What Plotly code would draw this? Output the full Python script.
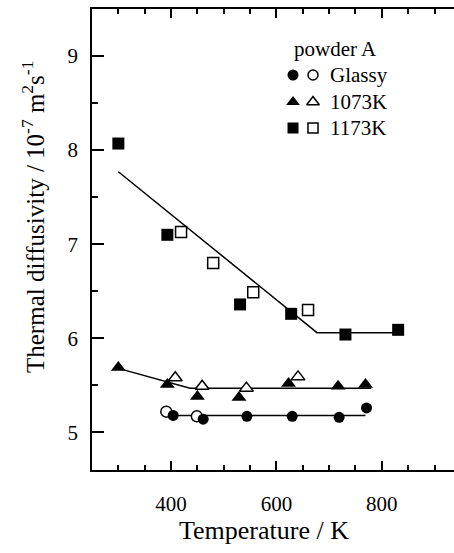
import plotly.graph_objects as go

# ---- data: thermal diffusivity (1e-7 m^2/s) vs temperature (K), powder A ----
glassy_T = [404, 461, 544, 630, 719, 771]
glassy_D = [5.18, 5.14, 5.17, 5.17, 5.16, 5.26]
glassy_open_T = [391, 449]
glassy_open_D = [5.22, 5.17]
glassy_fit_T = [404, 769]
glassy_fit_D = [5.18, 5.18]

k1073_T = [300, 393, 450, 529, 623, 717, 769]
k1073_D = [5.69, 5.51, 5.38, 5.37, 5.52, 5.49, 5.51]
k1073_open_T = [408, 459, 543, 641]
k1073_open_D = [5.58, 5.49, 5.47, 5.59]
k1073_fit_T = [300, 436, 780]
k1073_fit_D = [5.68, 5.47, 5.47]

k1173_T = [300, 393, 531, 628, 731, 831]
k1173_D = [8.07, 7.10, 6.36, 6.26, 6.04, 6.09]
k1173_open_T = [419, 480, 556, 660]
k1173_open_D = [7.13, 6.80, 6.49, 6.30]
k1173_fit_T = [300, 677, 831]
k1173_fit_D = [7.77, 6.06, 6.06]

legend_title = "powder A"
legend_labels = ["Glassy", "1073K", "1173K"]
legend_symbols = ["circle", "triangle-up", "square"]

FONT = "Liberation Serif"
W, H = 454, 553
L, R, T, B = 92, 0, 9, 83
PW, PH = W - L - R, H - T - B

fig = go.Figure()

def fit_line(x, y):
    fig.add_trace(go.Scatter(x=x, y=y, mode="lines",
                             line=dict(color="black", width=1.5),
                             showlegend=False, hoverinfo="skip"))

def filled(x, y, symbol, size):
    fig.add_trace(go.Scatter(x=x, y=y, mode="markers", showlegend=False,
                             marker=dict(symbol=symbol, size=size, color="black",
                                         line=dict(width=0))))

def hollow(x, y, symbol, size):
    fig.add_trace(go.Scatter(x=x, y=y, mode="markers", showlegend=False,
                             marker=dict(symbol=symbol, size=size, color="white",
                                         line=dict(width=1.5, color="black"))))

fit_line(glassy_fit_T, glassy_fit_D)
fit_line(k1073_fit_T, k1073_fit_D)
fit_line(k1173_fit_T, k1173_fit_D)

hollow(glassy_open_T, glassy_open_D, "circle", 11)
filled(glassy_T, glassy_D, "circle", 11)
filled(k1073_T, k1073_D, "triangle-up", 13)
hollow(k1073_open_T, k1073_open_D, "triangle-up", 12)
filled(k1173_T, k1173_D, "square", 12)
hollow(k1173_open_T, k1173_open_D, "square", 11)

# ---- legend key drawn on a pixel-scaled overlay axis ----
key_x_filled, key_x_open, key_x_text = 201, 221, 236
key_rows = [66, 93, 119]
key_sizes = [11, 12, 11]
for sym, yy, sz, lab in zip(legend_symbols, key_rows, key_sizes, legend_labels):
    fig.add_trace(go.Scatter(x=[key_x_filled], y=[yy], xaxis="x2", yaxis="y2",
                             mode="markers", showlegend=False, hoverinfo="skip",
                             marker=dict(symbol=sym, size=sz, color="black")))
    fig.add_trace(go.Scatter(x=[key_x_open], y=[yy], xaxis="x2", yaxis="y2",
                             mode="markers", showlegend=False, hoverinfo="skip",
                             marker=dict(symbol=sym, size=sz - 1, color="white",
                                         line=dict(width=1.5, color="black"))))
    fig.add_annotation(x=key_x_text, y=yy, xref="x2", yref="y2", text=lab,
                       showarrow=False, xanchor="left", yanchor="middle",
                       font=dict(family=FONT, size=21, color="black"))
fig.add_annotation(x=200, y=40, xref="x2", yref="y2", text=legend_title,
                   showarrow=False, xanchor="left", yanchor="middle",
                   font=dict(family=FONT, size=21, color="black"))

# axis titles
fig.add_annotation(x=(264 - L) / PW, y=-(530 - T - PH) / PH, xref="paper", yref="paper",
                   text="Temperature / K", showarrow=False,
                   xanchor="center", yanchor="middle",
                   font=dict(family=FONT, size=26, color="black"))
fig.add_annotation(x=(33 - L) / PW, y=1 - (217 - T) / PH, xref="paper", yref="paper",
                   text="Thermal diffusivity / 10<sup>-7</sup> m<sup>2</sup>s<sup>-1</sup>",
                   textangle=-90, showarrow=False,
                   xanchor="center", yanchor="middle",
                   font=dict(family=FONT, size=25, color="black"))

axis_common = dict(showgrid=False, zeroline=False, showline=True, linecolor="black",
                   linewidth=1.5, ticks="inside", tickcolor="black", tickwidth=1.5,
                   tickfont=dict(family=FONT, size=21, color="black"))

fig.update_layout(
    width=W, height=H,
    margin=dict(l=L, r=R, t=T, b=B, pad=0),
    paper_bgcolor="white", plot_bgcolor="white",
    showlegend=False,
    xaxis=dict(range=[250, 937], tick0=0, dtick=200, ticklen=9, mirror="ticks",
               minor=dict(dtick=50, tick0=0, ticks="inside", ticklen=5,
                          tickcolor="black", tickwidth=1.5),
               ticklabelstandoff=14, **axis_common),
    yaxis=dict(range=[4.6, 9.5], tick0=0, dtick=1, ticklen=12, mirror=False,
               minor=dict(dtick=0.5, tick0=0, ticks="inside", ticklen=6,
                          tickcolor="black", tickwidth=1.5),
               ticklabelstandoff=8, **axis_common),
    xaxis2=dict(overlaying="x", range=[0, PW], visible=False),
    yaxis2=dict(overlaying="y", range=[PH, 0], visible=False),
    yaxis3=dict(overlaying="y", side="right", range=[4.6, 9.5], tick0=0, dtick=1,
                showgrid=False, zeroline=False, showline=False, ticks="inside",
                ticklen=4, tickwidth=1.5, tickcolor="black", showticklabels=False),
)

fig.write_html("out.html")
